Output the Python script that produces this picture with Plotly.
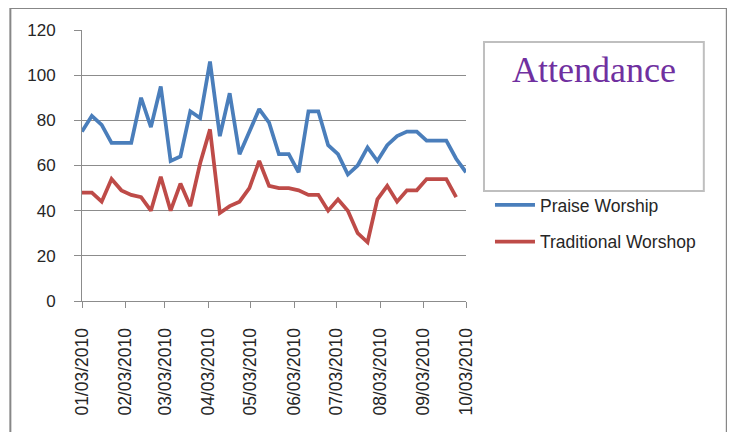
import plotly.graph_objects as go

dates = [
    "2010-01-03", "2010-01-10", "2010-01-17", "2010-01-24", "2010-01-31",
    "2010-02-07", "2010-02-14", "2010-02-21", "2010-02-28", "2010-03-07",
    "2010-03-14", "2010-03-21", "2010-03-28", "2010-04-04", "2010-04-11",
    "2010-04-18", "2010-04-25", "2010-05-02", "2010-05-09", "2010-05-16",
    "2010-05-23", "2010-05-30", "2010-06-06", "2010-06-13", "2010-06-20",
    "2010-06-27", "2010-07-04", "2010-07-11", "2010-07-18", "2010-07-25",
    "2010-08-01", "2010-08-08", "2010-08-15", "2010-08-22", "2010-08-29",
    "2010-09-05", "2010-09-12", "2010-09-19", "2010-09-26", "2010-10-03",
]

praise_worship = [75, 82, 78, 70, 70, 70, 90, 77, 95, 62,
                  64, 84, 81, 106, 73, 92, 65, 75, 85, 79,
                  65, 65, 57, 84, 84, 69, 65, 56, 60, 68,
                  62, 69, 73, 75, 75, 71, 71, 71, 63, 57]

traditional_worshop = [48, 48, 44, 54, 49, 47, 46, 40, 55, 40,
                       52, 42, 61, 76, 39, 42, 44, 50, 62, 51,
                       50, 50, 49, 47, 47, 40, 45, 40, 30, 26,
                       45, 51, 44, 49, 49, 54, 54, 54, 46, None]

tick_dates = ["2010-01-03", "2010-02-03", "2010-03-03", "2010-04-03", "2010-05-03",
              "2010-06-03", "2010-07-03", "2010-08-03", "2010-09-03", "2010-10-03"]
tick_labels = ["01/03/2010", "02/03/2010", "03/03/2010", "04/03/2010", "05/03/2010",
               "06/03/2010", "07/03/2010", "08/03/2010", "09/03/2010", "10/03/2010"]
y_ticks = [0, 20, 40, 60, 80, 100, 120]

title_text = "Attendance"

# the page body adds an 8px margin; lay out in window pixels and compensate
OX, OY = 8, 8
W, H = 735 - OX, 432 - OY
L, R, T, B = 81.7 - OX, 466.0 - OX, 30.0 - OY, 301.0 - OY
pw, ph = R - L, B - T


def px(x):
    return (x - OX - L) / pw


def py(y):
    return (B - (y - OY)) / ph


fig = go.Figure()
fig.add_trace(go.Scatter(x=dates, y=praise_worship, mode="lines", name="Praise Worship",
                         line=dict(color="#4A7EBB", width=3.75), legendgroup="a"))
fig.add_trace(go.Scatter(x=dates, y=traditional_worshop, mode="lines", name="Traditional Worshop",
                         line=dict(color="#BE4B48", width=3.75), legendgroup="b"))

grid = "#8C8C8C"
fig.update_layout(
    width=W, height=H,
    margin=dict(l=L, r=W - R, t=T, b=H - B, pad=0, autoexpand=False),
    paper_bgcolor="white", plot_bgcolor="white",
    font=dict(family="Liberation Sans, Arial, sans-serif", color="#262626"),
    showlegend=True,
    legend=dict(x=px(490), y=py(187), xanchor="left", yanchor="top",
                font=dict(size=17.5, color="#262626"), tracegroupgap=11,
                bgcolor="rgba(0,0,0,0)", itemwidth=40),
    xaxis=dict(type="date", range=["2010-01-03", "2010-10-03"],
               tickvals=tick_dates, ticktext=tick_labels, tickangle=-90,
               showgrid=False, showline=True, linecolor=grid, linewidth=1,
               ticks="outside", ticklen=6, tickcolor=grid, automargin=False,
               tickfont=dict(size=17.5, color="#262626"), ticklabelstandoff=13,
               zeroline=False, fixedrange=True),
    yaxis=dict(range=[0, 120], tickvals=y_ticks, showgrid=True, gridcolor=grid, gridwidth=1,
               showline=True, linecolor=grid, linewidth=1, automargin=False,
               ticks="outside", ticklen=7, tickcolor=grid,
               tickfont=dict(size=17, color="#262626"), ticklabelstandoff=15,
               zeroline=False, fixedrange=True),
    shapes=[
        dict(type="rect", xref="paper", yref="paper",
             x0=px(10), x1=px(727), y0=py(445), y1=py(8),
             line=dict(color="#878787", width=2), fillcolor="rgba(0,0,0,0)", layer="below"),
        dict(type="rect", xref="paper", yref="paper",
             x0=px(484), x1=px(704), y0=py(191), y1=py(42),
             line=dict(color="#BFBFBF", width=2), fillcolor="rgba(0,0,0,0)"),
    ],
    annotations=[
        dict(text=title_text, xref="paper", yref="paper", x=px(594), y=py(70),
             xanchor="center", yanchor="middle", showarrow=False,
             font=dict(family="Liberation Serif, Times New Roman, serif", size=36, color="#7030A0")),
    ],
)

fig.write_html("out.html")
